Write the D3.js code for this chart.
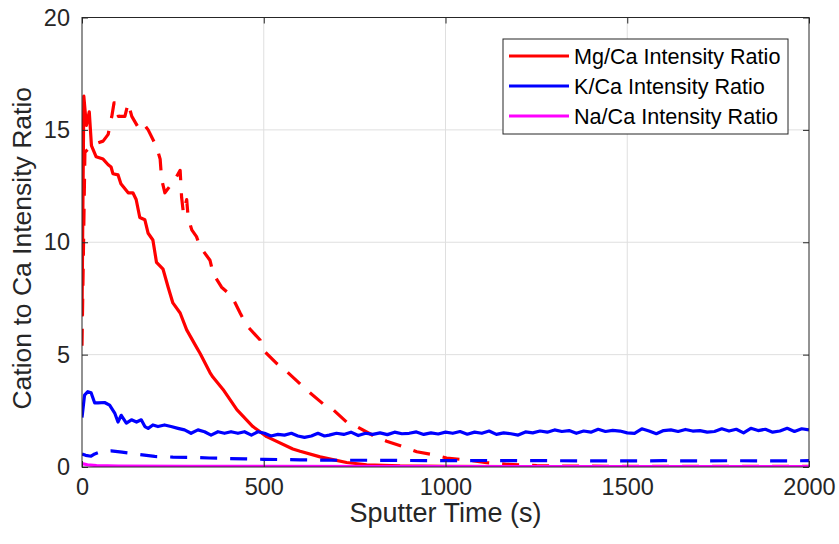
<!DOCTYPE html>
<html>
<head>
<meta charset="utf-8">
<script src="https://cdn.jsdelivr.net/npm/d3@7"></script>
<style>
  body { margin: 0; background: #fff; }
  svg { display: block; font-family: Arial, "Liberation Sans", sans-serif; }
  .grid line { stroke: #dfdfdf; stroke-width: 1; }
  .axis path { display: none; }
  .axis line { stroke: #262626; }
  .axis text { fill: #262626; font-size: 23.5px; }
  .series { fill: none; stroke-width: 3.2; stroke-linejoin: round; }
  .dashed { stroke-dasharray: 17, 13; }
</style>
</head>
<body>
<svg id="chart" width="839" height="544"></svg>
<script>
// values
let xTicks = [0, 500, 1000, 1500, 2000];
let yTicks = [0, 5, 10, 15, 20];
let legendLabels = ["Mg/Ca Intensity Ratio", "K/Ca Intensity Ratio", "Na/Ca Intensity Ratio"];

// Mg/Ca, solid
let mgTime = [0, 5, 12, 20, 26, 39, 58, 72, 80, 85, 99, 107, 127, 140, 149, 159, 173, 182, 195, 205, 223, 237, 250, 270, 288, 316, 325, 352, 360, 388, 426, 435, 470, 508, 580, 600, 655, 690, 728, 783, 875, 1000, 1200, 1500, 2000];
let mgValue = [6.7, 16.5, 15.2, 15.8, 14.3, 13.8, 13.7, 13.45, 13.35, 13.05, 13.0, 12.6, 12.2, 12.2, 11.9, 11.1, 11.0, 10.4, 10.1, 9.1, 8.8, 8.0, 7.3, 6.85, 6.1, 5.3, 5.05, 4.2, 4.0, 3.45, 2.55, 2.4, 1.8, 1.35, 0.8, 0.7, 0.45, 0.33, 0.2, 0.1, 0.05, 0.03, 0.02, 0.02, 0.02];

// Mg/Ca, dashed
let mgDashTime = [0, 8, 20, 40, 58, 72, 82, 88, 95, 100, 118, 127, 137, 155, 168, 182, 205, 215, 219, 228, 256, 270, 274, 279, 288, 292, 302, 315, 325, 352, 361, 384, 412, 435, 453, 490, 499, 536, 563, 600, 627, 664, 691, 728, 756, 801, 838, 893, 921, 966, 1003, 1067, 1113, 1168, 1251, 1333, 1500, 2000];
let mgDashValue = [5.4, 14.0, 14.2, 14.4, 14.5, 14.8, 15.6, 16.2, 16.2, 15.6, 15.6, 16.2, 15.6, 15.1, 15.3, 15.0, 14.25, 13.7, 12.8, 12.2, 12.8, 13.2, 12.0, 11.3, 11.9, 11.1, 10.55, 10.25, 9.8, 9.2, 8.6, 8.0, 7.6, 6.85, 6.3, 5.65, 5.2, 4.6, 4.25, 3.7, 3.3, 2.8, 2.55, 2.0, 1.8, 1.4, 1.15, 0.85, 0.68, 0.55, 0.4, 0.3, 0.19, 0.12, 0.06, 0.04, 0.03, 0.03];

// K/Ca, solid
let kTime = [0, 7, 16, 25, 35, 44, 62, 76, 90, 99, 108, 122, 136, 150, 163, 173, 182, 195, 209, 227, 245, 264, 282, 300, 319, 337, 355, 374, 392, 410, 429, 447, 466, 484, 502, 520, 539, 557, 576, 594, 612, 631, 649, 667,
  680, 700, 720, 740, 760, 780, 800, 820, 840, 860, 880, 900, 920, 940, 960, 980, 1000, 1020, 1040, 1060, 1080, 1100, 1120, 1140, 1160, 1180, 1200, 1220, 1240, 1260, 1280, 1300, 1320, 1340, 1360, 1380, 1400, 1420, 1440, 1460, 1480, 1500, 1520, 1540, 1560, 1580, 1600, 1620, 1640, 1660, 1680, 1700, 1720, 1740, 1760, 1780, 1800, 1820, 1840, 1860, 1880, 1900, 1920, 1940, 1960, 1980, 2000];
let kValue = [2.2, 3.2, 3.35, 3.3, 2.85, 2.85, 2.87, 2.75, 2.4, 2.0, 2.3, 1.95, 2.1, 2.0, 2.1, 1.8, 1.72, 1.87, 1.8, 1.87, 1.8, 1.72, 1.65, 1.5, 1.65, 1.57, 1.42, 1.57, 1.5, 1.57, 1.5, 1.57, 1.42, 1.57, 1.5, 1.38, 1.45, 1.42, 1.5, 1.38, 1.32, 1.38, 1.5, 1.38,
  1.42, 1.5, 1.45, 1.55, 1.4, 1.5, 1.45, 1.52, 1.44, 1.55, 1.48, 1.5, 1.56, 1.45, 1.52, 1.47, 1.55, 1.5, 1.58, 1.46, 1.55, 1.5, 1.6, 1.45, 1.52, 1.48, 1.42, 1.56, 1.52, 1.6, 1.55, 1.65, 1.58, 1.62, 1.5, 1.6, 1.55, 1.68, 1.58, 1.63, 1.6, 1.52, 1.5, 1.7, 1.6, 1.48, 1.62, 1.65, 1.58, 1.67, 1.6, 1.62, 1.55, 1.58, 1.7, 1.6, 1.68, 1.52, 1.72, 1.62, 1.68, 1.55, 1.6, 1.72, 1.58, 1.7, 1.65];

// K/Ca, dashed
let kDashTime = [0, 10, 25, 35, 55, 80, 110, 140, 160, 200, 250, 300, 350, 400, 450, 500, 550, 600, 700, 800, 900, 1000, 1100, 1200, 1300, 1400, 1500, 1600, 1700, 1800, 1900, 2000];
let kDashValue = [0.58, 0.52, 0.48, 0.58, 0.7, 0.72, 0.66, 0.6, 0.55, 0.47, 0.44, 0.43, 0.4, 0.38, 0.36, 0.34, 0.33, 0.32, 0.3, 0.3, 0.29, 0.28, 0.29, 0.28, 0.28, 0.27, 0.27, 0.28, 0.27, 0.28, 0.27, 0.28];

// Na/Ca, solid
let naTime = [0, 15, 40, 100, 300, 1000, 2000];
let naValue = [0.15, 0.1, 0.06, 0.04, 0.03, 0.02, 0.02];

let svg = d3.select("#chart");
let margin = {top: 17.5, right: 30, bottom: 77, left: 82};
let width = 839 - margin.left - margin.right,
    height = 544 - margin.top - margin.bottom;

let xScale = d3.scaleLinear().domain([0, 2000]).range([0, width]);
let yScale = d3.scaleLinear().domain([0, 20]).range([height, 0]);

let g = svg.append("g").attr("transform", `translate(${margin.left},${margin.top})`);

svg.append("defs").append("clipPath").attr("id", "clip")
    .append("rect").attr("width", width).attr("height", height);

// grid
g.append("g").attr("class", "grid")
    .selectAll("line").data(xTicks.slice(1, -1)).enter().append("line")
    .attr("x1", d => xScale(d)).attr("x2", d => xScale(d))
    .attr("y1", 0).attr("y2", height);
g.append("g").attr("class", "grid")
    .selectAll("line").data(yTicks.slice(1, -1)).enter().append("line")
    .attr("x1", 0).attr("x2", width)
    .attr("y1", d => yScale(d)).attr("y2", d => yScale(d));

let line = d3.line()
    .x(d => xScale(d[0]))
    .y(d => yScale(d[1]));

let series = [
    {t: mgTime, v: mgValue, color: "#ff0000", dashed: false},
    {t: mgDashTime, v: mgDashValue, color: "#ff0000", dashed: true},
    {t: kTime, v: kValue, color: "#0000ff", dashed: false},
    {t: kDashTime, v: kDashValue, color: "#0000ff", dashed: true},
    {t: naTime, v: naValue, color: "#ff00ff", dashed: false}
];

let plot = g.append("g").attr("clip-path", "url(#clip)");
for (let s of series) {
    plot.append("path")
        .attr("class", s.dashed ? "series dashed" : "series")
        .attr("stroke", s.color)
        .attr("d", line(s.t.map((t, i) => [t, s.v[i]])));
}

// axes, ticks pointing inward on all four sides
g.append("g").attr("class", "axis")
    .attr("transform", `translate(0,${height})`)
    .call(d3.axisBottom(xScale).tickValues(xTicks).tickFormat(d3.format("d")).tickSize(-6).tickPadding(11));
g.append("g").attr("class", "axis")
    .call(d3.axisLeft(yScale).tickValues(yTicks).tickFormat(d3.format("d")).tickSize(-6).tickPadding(12));
g.append("g").attr("class", "axis")
    .call(d3.axisTop(xScale).tickValues(xTicks).tickSize(-6).tickFormat(""));
g.append("g").attr("class", "axis")
    .attr("transform", `translate(${width},0)`)
    .call(d3.axisRight(yScale).tickValues(yTicks).tickSize(-6).tickFormat(""));

g.append("rect")
    .attr("width", width).attr("height", height)
    .attr("fill", "none").attr("stroke", "#262626").attr("stroke-width", 1);

// axis labels
svg.append("text")
    .attr("x", margin.left + width / 2).attr("y", 522)
    .attr("text-anchor", "middle")
    .attr("fill", "#262626").attr("font-size", 27)
    .text("Sputter Time (s)");

svg.append("text")
    .attr("transform", `translate(31,${margin.top + height / 2 + 6}) rotate(-90)`)
    .attr("text-anchor", "middle")
    .attr("fill", "#262626").attr("font-size", 26.5)
    .text("Cation to Ca Intensity Ratio");

// legend
let legend = svg.append("g").attr("transform", "translate(503,39)");
legend.append("rect")
    .attr("width", 285).attr("height", 95)
    .attr("fill", "#fff").attr("stroke", "#262626").attr("stroke-width", 1);
let legendColors = ["#ff0000", "#0000ff", "#ff00ff"];
let rows = legend.selectAll(".row").data(legendLabels).enter().append("g")
    .attr("transform", (d, i) => `translate(0,${17 + i * 30})`);
rows.append("line")
    .attr("x1", 6).attr("x2", 66)
    .attr("stroke", (d, i) => legendColors[i]).attr("stroke-width", 3.2);
rows.append("text")
    .attr("x", 71).attr("dy", "0.35em")
    .attr("fill", "#000").attr("font-size", 21.6)
    .text(d => d);
</script>
</body>
</html>
